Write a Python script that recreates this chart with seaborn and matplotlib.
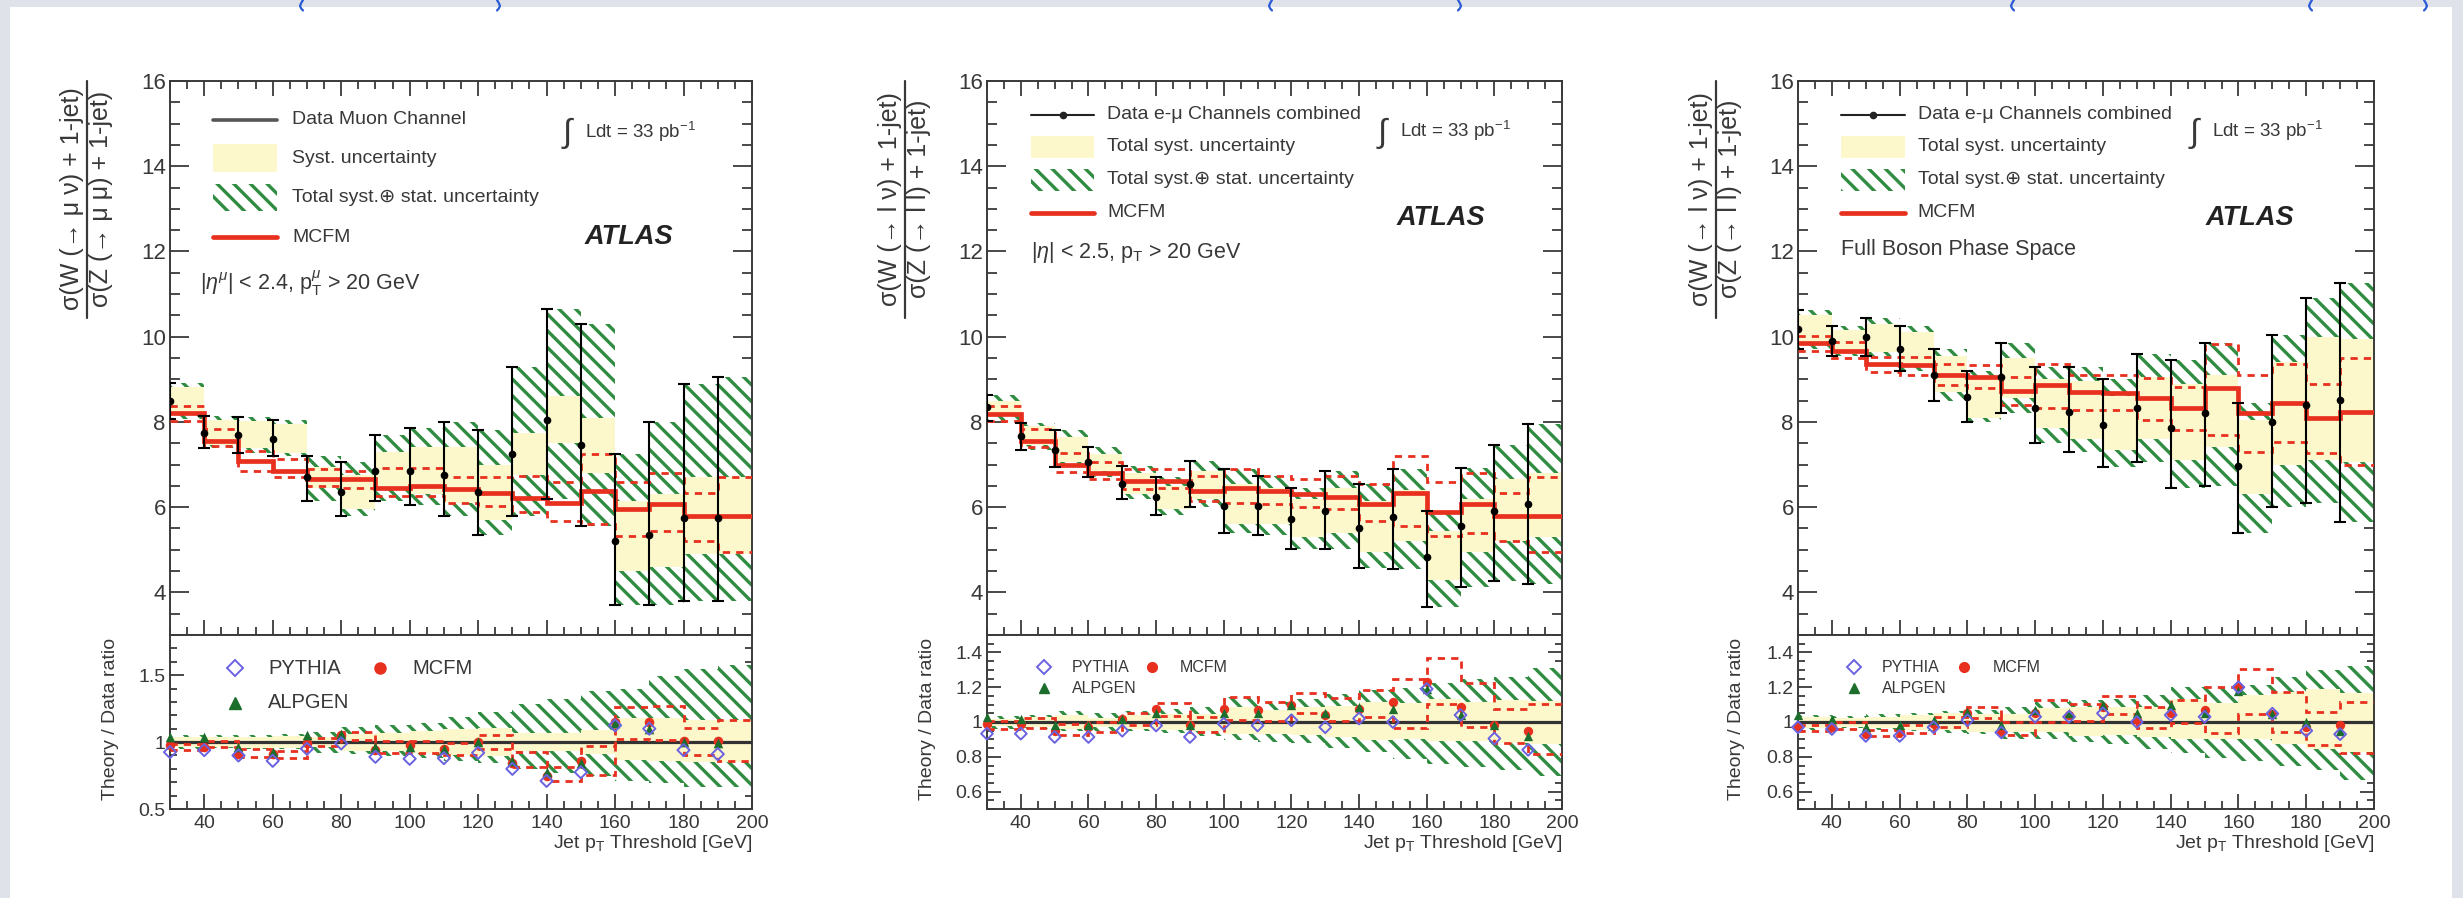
import numpy as np
import pandas as pd
import matplotlib
matplotlib.use("Agg")
import matplotlib.pyplot as plt
import seaborn as sns
from matplotlib.patches import Rectangle
from matplotlib.lines import Line2D
from matplotlib.ticker import MultipleLocator, FixedLocator, FuncFormatter

# ---------------- data ----------------
thresholds = [30, 40, 50, 60, 70, 80, 90, 100, 110, 120, 130, 140, 150, 160, 170, 180, 190]
bin_width = 10

# Panel 1 : muon channel
data_mu = [8.50, 7.75, 7.70, 7.60, 6.70, 6.35, 6.85, 6.85, 6.75, 6.35, 7.25, 8.05, 7.45, 5.20, 5.35, 5.75, 5.75]
tot_hi_mu = [8.92, 8.15, 8.12, 8.05, 7.20, 7.05, 7.70, 7.85, 8.00, 7.80, 9.30, 10.65, 10.30, 7.25, 8.00, 8.90, 9.05]
tot_lo_mu = [8.08, 7.38, 7.28, 7.20, 6.15, 5.80, 6.15, 6.05, 5.80, 5.35, 5.80, 6.20, 5.55, 3.70, 3.70, 3.80, 3.80]
syst_hi_mu = [8.82, 8.05, 8.02, 7.95, 6.95, 6.75, 7.30, 7.40, 7.40, 7.00, 7.75, 8.60, 8.10, 6.15, 6.30, 6.70, 6.70]
syst_lo_mu = [8.20, 7.45, 7.38, 7.28, 6.45, 5.95, 6.40, 6.30, 6.10, 5.70, 6.75, 7.50, 6.80, 4.50, 4.60, 4.90, 4.90]
mcfm_mu = [8.22, 7.55, 7.08, 6.85, 6.66, 6.66, 6.46, 6.50, 6.42, 6.34, 6.22, 6.10, 6.38, 5.95, 6.07, 5.80, 5.80]
mcfm_hi_mu = [8.38, 7.83, 7.32, 7.12, 6.89, 6.85, 6.93, 6.93, 6.70, 6.70, 6.73, 6.58, 7.24, 6.58, 6.80, 6.34, 6.70]
mcfm_lo_mu = [8.02, 7.44, 6.85, 6.70, 6.50, 6.46, 6.27, 6.27, 6.10, 6.03, 5.88, 5.68, 5.60, 5.33, 5.45, 5.21, 4.94]
pythia_mu = [0.925, 0.94, 0.90, 0.86, 0.95, 0.99, 0.89, 0.875, 0.88, 0.92, 0.80, 0.71, 0.775, 1.125, 1.10, 0.94, 0.91]
alpgen_mu = [1.04, 1.04, 0.96, 0.925, 1.05, 1.06, 0.96, 0.96, 0.95, 1.00, 0.86, 0.775, 0.84, 1.14, 1.10, 1.00, 0.99]
mcfm_ratio_mu = [0.975, 0.96, 0.91, 0.91, 0.99, 1.05, 0.94, 0.975, 0.95, 1.00, 0.84, 0.75, 0.86, 1.15, 1.15, 1.01, 1.01]

# Panel 2 : e-mu combined, fiducial
data_comb = [8.34, 7.67, 7.35, 7.07, 6.55, 6.23, 6.54, 6.03, 6.03, 5.72, 5.91, 5.52, 5.76, 4.82, 5.56, 5.91, 6.07]
tot_hi_comb = [8.63, 7.98, 7.80, 7.42, 6.97, 6.70, 7.09, 6.90, 6.73, 6.46, 6.85, 6.54, 6.90, 5.90, 6.93, 7.45, 7.95]
tot_lo_comb = [8.02, 7.35, 6.95, 6.70, 6.20, 5.82, 6.00, 5.40, 5.35, 5.02, 5.02, 4.57, 4.55, 3.65, 4.12, 4.27, 4.20]
syst_hi_comb = [8.50, 7.90, 7.65, 7.25, 6.80, 6.50, 6.85, 6.55, 6.45, 6.20, 6.45, 6.15, 6.40, 5.45, 6.20, 6.65, 6.80]
syst_lo_comb = [8.15, 7.45, 7.05, 6.85, 6.30, 5.95, 6.20, 5.60, 5.60, 5.30, 5.40, 4.95, 5.20, 4.30, 4.95, 5.20, 5.30]
mcfm_comb = [8.18, 7.55, 7.00, 6.81, 6.62, 6.62, 6.38, 6.46, 6.38, 6.30, 6.23, 6.07, 6.34, 5.88, 6.07, 5.80, 5.80]
mcfm_hi_comb = [8.38, 7.83, 7.28, 7.05, 6.90, 6.90, 6.73, 6.90, 6.73, 6.66, 6.73, 6.54, 7.20, 6.58, 6.80, 6.34, 6.70]
mcfm_lo_comb = [8.02, 7.40, 6.82, 6.66, 6.42, 6.46, 6.15, 6.10, 6.07, 6.00, 5.95, 5.68, 5.56, 5.33, 5.40, 5.21, 4.94]
pythia_comb = [0.933, 0.933, 0.914, 0.914, 0.95, 0.98, 0.914, 0.99, 0.98, 1.01, 0.97, 1.02, 1.00, 1.19, 1.04, 0.905, 0.84]
alpgen_comb = [1.03, 1.02, 0.98, 0.98, 1.02, 1.05, 0.98, 1.05, 1.05, 1.095, 1.05, 1.086, 1.076, 1.19, 1.04, 0.985, 0.92]
mcfm_ratio_comb = [0.99, 0.99, 0.95, 0.97, 1.02, 1.076, 0.98, 1.076, 1.067, 1.095, 1.04, 1.076, 1.114, 1.23, 1.086, 0.985, 0.95]

# Panel 3 : e-mu combined, full boson phase space
data_full = [10.19, 9.90, 9.99, 9.72, 9.10, 8.59, 9.06, 8.32, 8.24, 7.93, 8.32, 7.85, 8.20, 6.96, 8.00, 8.40, 8.51]
tot_hi_full = [10.62, 10.25, 10.45, 10.25, 9.70, 9.20, 9.85, 9.28, 9.30, 9.00, 9.60, 9.45, 9.85, 8.45, 10.05, 10.90, 11.25]
tot_lo_full = [9.70, 9.55, 9.55, 9.20, 8.50, 8.00, 8.20, 7.50, 7.30, 6.95, 7.05, 6.45, 6.50, 5.40, 6.00, 6.10, 5.65]
syst_hi_full = [10.50, 10.15, 10.30, 10.10, 9.55, 9.00, 9.50, 9.00, 8.95, 8.60, 9.05, 8.90, 9.10, 8.05, 9.40, 10.00, 9.95]
syst_lo_full = [9.85, 9.60, 9.65, 9.30, 8.70, 8.10, 8.55, 7.85, 7.60, 7.35, 7.60, 7.10, 7.40, 6.30, 7.00, 7.10, 7.05]
mcfm_full = [9.86, 9.67, 9.37, 9.33, 9.10, 9.06, 8.72, 8.86, 8.71, 8.67, 8.55, 8.32, 8.79, 8.20, 8.44, 8.09, 8.24]
mcfm_hi_full = [10.02, 9.88, 9.53, 9.53, 9.37, 9.33, 9.06, 9.37, 9.10, 9.10, 9.02, 8.82, 9.84, 9.10, 9.37, 8.90, 9.49]
mcfm_lo_full = [9.67, 9.49, 9.18, 9.10, 8.86, 8.79, 8.40, 8.32, 8.28, 8.28, 8.05, 7.81, 7.70, 7.30, 7.54, 7.27, 7.00]
pythia_full = [0.97, 0.96, 0.92, 0.92, 0.97, 1.01, 0.94, 1.03, 1.03, 1.05, 1.00, 1.04, 1.03, 1.20, 1.048, 0.95, 0.93]
alpgen_full = [1.04, 1.02, 0.97, 0.98, 1.01, 1.057, 0.98, 1.067, 1.05, 1.095, 1.05, 1.095, 1.05, 1.18, 1.048, 1.00, 0.95]
mcfm_ratio_full = [0.97, 0.97, 0.93, 0.94, 0.99, 1.05, 0.95, 1.05, 1.04, 1.086, 1.01, 1.05, 1.067, 1.20, 1.048, 0.97, 0.98]

legend_mu = ["Data Muon Channel", "Syst. uncertainty", "Total syst.\u2295 stat. uncertainty", "MCFM"]
legend_emu = ["Data e-\u03bc Channels combined", "Total syst. uncertainty", "Total syst.\u2295 stat. uncertainty", "MCFM"]
ratio_labels = ["PYTHIA", "MCFM", "ALPGEN"]

# ---------------- style ----------------
sns.set_theme(style="ticks")
plt.rcParams["font.family"] = ["Liberation Sans", "DejaVu Sans"]
plt.rcParams["mathtext.fontset"] = "custom"
plt.rcParams["mathtext.rm"] = "Liberation Sans"
plt.rcParams["mathtext.it"] = "Liberation Sans:italic"
plt.rcParams["mathtext.bf"] = "Liberation Sans:bold"
plt.rcParams["mathtext.sf"] = "Liberation Sans"
plt.rcParams["hatch.linewidth"] = 2.4

GREEN = "#2f8c40"
plt.rcParams["hatch.color"] = GREEN
YELLOW = "#fcf8cb"
RED = "#e8301f"
BLUE = "#6a62e0"
GREEN_PT = "#1b6e2c"
AXC = "#3a3a3a"
TXT = "#383838"

W, H = 2463, 898
fig = plt.figure(figsize=(W / 100, H / 100), dpi=100)
fig.patch.set_facecolor("white")

# page background strips
BG = "#dfe3e9"
fig.add_artist(Rectangle((0, 1 - 7 / H), 1, 7 / H, transform=fig.transFigure, facecolor=BG, lw=0, zorder=-5))
fig.add_artist(Rectangle((0, 0), 10 / W, 1, transform=fig.transFigure, facecolor=BG, lw=0, zorder=-5))
fig.add_artist(Rectangle((2452 / W, 0), 11 / W, 1, transform=fig.transFigure, facecolor=BG, lw=0, zorder=-5))
# bottoms of cut-off link glyphs at the very top of the page
for xp, side in [(300, -1), (500, 1), (1269, -1), (1461, 1), (2011, -1), (2309, -1), (2427, 1)]:
    px = np.array([3.0, 1.2, 0.0, 1.2, 3.0]) * side * -1 + xp
    py = H - np.array([0.0, 3.0, 6.0, 8.5, 10.5])
    fig.add_artist(Line2D(px / W, py / H, transform=fig.transFigure, color="#2a5ad6", lw=1.6))

panels_px = [(170, 752), (987, 1562), (1798, 2374)]
top_px, mid_px, bot_px = 81, 635, 809

fmt = FuncFormatter(lambda v, p: f"{v:g}")


def style_common(ax):
    ax.set_xlim(30, 200)
    ax.xaxis.set_major_locator(MultipleLocator(20))
    ax.xaxis.set_minor_locator(MultipleLocator(5))
    for s in ax.spines.values():
        s.set_color(AXC)
        s.set_linewidth(1.4)
        s.set_visible(True)
    ax.set_facecolor("white")


def draw_panel(i, data, tot_hi, tot_lo, syst_hi, syst_lo, mcfm, mcfm_hi, mcfm_lo,
               pythia, alpgen, mcfm_ratio, legend_labels, cfg):
    l, r = panels_px[i]
    ax = fig.add_axes([l / W, (H - mid_px) / H, (r - l) / W, (mid_px - top_px) / H])
    axr = fig.add_axes([l / W, (H - bot_px) / H, (r - l) / W, (bot_px - mid_px) / H])
    x = np.array(thresholds, float)
    edges = np.append(x, x[-1] + bin_width)
    d = np.array(data)
    th, tl = np.array(tot_hi), np.array(tot_lo)
    sh, sl = np.array(syst_hi), np.array(syst_lo)
    m, mh, ml = np.array(mcfm), np.array(mcfm_hi), np.array(mcfm_lo)

    # ---------- upper panel ----------
    ax.bar(x, th - tl, bottom=tl, width=bin_width, align="edge", facecolor="white",
           edgecolor=GREEN, hatch="\\\\", linewidth=0, zorder=1)
    ax.bar(x, sh - sl, bottom=sl, width=bin_width, align="edge", color=YELLOW, linewidth=0, zorder=2)
    ax.stairs(mh, edges, baseline=None, color=RED, lw=2.0, ls=(0, (2.6, 2.2)), zorder=3)
    ax.stairs(ml, edges, baseline=None, color=RED, lw=2.0, ls=(0, (2.6, 2.2)), zorder=3)
    ax.stairs(m, edges, baseline=None, color=RED, lw=3.4, zorder=4)
    ax.errorbar(x, d, yerr=[d - tl, th - d], fmt="o", ms=4.5, color="black", ecolor="black",
                elinewidth=1.5, capsize=4, capthick=1.5, zorder=6)

    style_common(ax)
    ax.set_ylim(3, 16)
    ax.yaxis.set_major_locator(MultipleLocator(2))
    ax.yaxis.set_minor_locator(MultipleLocator(0.5))
    ax.yaxis.set_major_formatter(fmt)
    ax.tick_params(which="both", direction="in", top=True, right=True, bottom=True, left=True,
                   labelbottom=False, color=AXC, width=1.3)
    ax.tick_params(axis="y", which="major", length=14, labelsize=16, labelcolor=TXT, pad=3)
    ax.tick_params(axis="y", which="minor", length=7)
    ax.tick_params(axis="x", which="major", length=11)
    ax.tick_params(axis="x", which="minor", length=6)
    ax.set_xlabel("")
    ax.set_ylabel("")

    # y-label as a fraction
    tr = ax.transAxes
    num, den = cfg["num"], cfg["den"]
    ax.text(-0.168, 0.787, num, transform=tr, rotation=90, ha="center", va="center",
            fontsize=cfg["yfs"], color=TXT)
    ax.text(-0.118, 0.787, den, transform=tr, rotation=90, ha="center", va="center",
            fontsize=cfg["yfs"], color=TXT)
    ax.add_line(Line2D([-0.143, -0.143], [0.572, 1.0], transform=tr, color=TXT, lw=1.6, clip_on=False))

    # legend
    rows = cfg["rows"]
    x0, x1, xt = cfg["hx0"], cfg["hx1"], cfg["tx"]
    bh = cfg["boxh"]
    if cfg["data_marker"]:
        ax.add_line(Line2D([x0, x1], [rows[0]] * 2, transform=tr, color="#222", lw=1.5))
        ax.add_line(Line2D([(x0 + x1) / 2], [rows[0]], transform=tr, color="#222", marker="o", ms=4.5))
    else:
        ax.add_line(Line2D([x0, x1], [rows[0]] * 2, transform=tr, color="#555", lw=2.6))
    ax.add_patch(Rectangle((x0, rows[1] - bh / 2), x1 - x0, bh, transform=tr, facecolor=YELLOW, lw=0))
    ax.add_patch(Rectangle((x0, rows[2] - bh / 2), x1 - x0, bh, transform=tr, facecolor="white",
                           edgecolor=GREEN, hatch="\\\\", lw=0))
    ax.add_line(Line2D([x0, x1], [rows[3]] * 2, transform=tr, color=RED, lw=3.4))
    for rr, lab in zip(rows, legend_labels):
        ax.text(xt, rr, lab, transform=tr, ha="left", va="center", fontsize=cfg["lfs"], color=TXT)
    ax.text(cfg["cutx"], cfg["cuty"], cfg["cut"], transform=tr, ha="left", va="center",
            fontsize=cfg["cfs"], color=TXT)
    ax.text(cfg["intx"], cfg["inty"], "\u222b", transform=tr, ha="left", va="center", fontsize=24, color=TXT)
    ax.text(cfg["intx"] + 0.038, cfg["inty"] + 0.003, r"Ldt = 33 pb$^{-1}$", transform=tr, ha="left",
            va="center", fontsize=13.5, color=TXT)
    ax.text(cfg["atx"], cfg["aty"], "ATLAS", transform=tr, ha="left", va="center", fontsize=19.5,
            fontweight="bold", fontstyle="italic", color="#222")

    # ---------- ratio panel ----------
    axr.bar(x, (th - tl) / d, bottom=tl / d, width=bin_width, align="edge", facecolor="white",
            edgecolor=GREEN, hatch="\\\\", linewidth=0, zorder=1)
    axr.bar(x, (sh - sl) / d, bottom=sl / d, width=bin_width, align="edge", color=YELLOW,
            linewidth=0, zorder=2)
    axr.axhline(1.0, color="#333", lw=2.3, zorder=3)
    axr.stairs(mh / d, edges, baseline=None, color=RED, lw=2.0, ls=(0, (2.6, 2.2)), zorder=4)
    axr.stairs(ml / d, edges, baseline=None, color=RED, lw=2.0, ls=(0, (2.6, 2.2)), zorder=4)

    ms = cfg["pts"]
    sns.scatterplot(x=x, y=mcfm_ratio, ax=axr, marker="o", color=RED, edgecolor=RED, s=ms,
                    linewidth=0, clip_on=False, zorder=6)
    sns.scatterplot(x=x, y=alpgen, ax=axr, marker="^", color=GREEN_PT, edgecolor=GREEN_PT, s=ms,
                    linewidth=0, clip_on=False, zorder=7)
    sns.scatterplot(x=x, y=pythia, ax=axr, marker="D", facecolors="none", edgecolor=BLUE, s=ms * 0.8,
                    linewidth=1.4, clip_on=False, zorder=8)

    style_common(axr)
    axr.set_ylim(*cfg["rylim"])
    axr.yaxis.set_major_locator(FixedLocator(cfg["rticks"]))
    axr.yaxis.set_minor_locator(MultipleLocator(cfg["rminor"]))
    axr.yaxis.set_major_formatter(fmt)
    axr.xaxis.set_major_formatter(fmt)
    axr.tick_params(which="both", direction="in", top=False, right=True, bottom=True, left=True,
                    color=AXC, width=1.3)
    axr.tick_params(axis="y", which="major", length=10, labelsize=14, labelcolor=TXT, pad=3)
    axr.tick_params(axis="y", which="minor", length=5)
    axr.tick_params(axis="x", which="major", length=11, labelsize=14, labelcolor=TXT, pad=4)
    axr.tick_params(axis="x", which="minor", length=6)
    axr.set_xlabel(r"Jet p$_{\mathrm{T}}$ Threshold [GeV]", loc="right", fontsize=14, color=TXT, labelpad=1)
    axr.set_ylabel("")
    axr.text(cfg["rylx"], 0.52, "Theory / Data ratio", transform=axr.transAxes, rotation=90,
             ha="center", va="center", fontsize=14, color=TXT)

    # ratio legend
    rt = axr.transAxes
    rfs = cfg["rlfs"]
    (px, pyy), (mx, my), (ax_, ay) = cfg["rleg"]
    axr.add_line(Line2D([px], [pyy], transform=rt, marker="D", mfc="none", mec=BLUE, mew=1.4, ms=cfg["rms"]))
    axr.add_line(Line2D([mx], [my], transform=rt, marker="o", color=RED, ms=cfg["rms"]))
    axr.add_line(Line2D([ax_], [ay], transform=rt, marker="^", color=GREEN_PT, ms=cfg["rms"]))
    dx = cfg["rdx"]
    axr.text(px + dx, pyy, ratio_labels[0], transform=rt, ha="left", va="center", fontsize=rfs, color=TXT)
    axr.text(mx + dx, my, ratio_labels[1], transform=rt, ha="left", va="center", fontsize=rfs, color=TXT)
    axr.text(ax_ + dx, ay, ratio_labels[2], transform=rt, ha="left", va="center", fontsize=rfs, color=TXT)


cfg_mu = dict(
    num="\u03c3(W (\u2192 \u03bc \u03bd) + 1-jet)", den="\u03c3(Z (\u2192 \u03bc \u03bc) + 1-jet)", yfs=18,
    rows=[0.930, 0.861, 0.789, 0.718], hx0=0.074, hx1=0.184, tx=0.21, boxh=0.049, lfs=14,
    data_marker=False,
    cut=r"|$\eta^{\mu}$| < 2.4, p$_{\mathrm{T}}^{\mu}$ > 20 GeV", cutx=0.052, cuty=0.635, cfs=15.5,
    intx=0.675, inty=0.905, atx=0.713, aty=0.718,
    rylim=(0.5, 1.8), rticks=[0.5, 1.0, 1.5], rminor=0.1, rylx=-0.103,
    pts=48, rms=8, rlfs=14.5, rdx=0.057,
    rleg=[(0.112, 0.81), (0.36, 0.81), (0.112, 0.61)],
)
cfg_comb = dict(
    num="\u03c3(W (\u2192 l \u03bd) + 1-jet)", den="\u03c3(Z (\u2192 l l) + 1-jet)", yfs=18,
    rows=[0.939, 0.881, 0.822, 0.762], hx0=0.077, hx1=0.186, tx=0.209, boxh=0.040, lfs=14,
    data_marker=True,
    cut=r"|$\eta$| < 2.5, p$_{\mathrm{T}}$ > 20 GeV", cutx=0.077, cuty=0.69, cfs=15.5,
    intx=0.68, inty=0.906, atx=0.713, aty=0.753,
    rylim=(0.5, 1.5), rticks=[0.6, 0.8, 1.0, 1.2, 1.4], rminor=0.05, rylx=-0.103,
    pts=45, rms=7, rlfs=11.5, rdx=0.049,
    rleg=[(0.099, 0.816), (0.287, 0.816), (0.099, 0.695)],
)
cfg_full = dict(cfg_comb)
cfg_full.update(cut="Full Boson Phase Space", cutx=0.075, cuty=0.695, cfs=15.5,
                hx0=0.075, hx1=0.186, tx=0.208, atx=0.708, rylx=-0.106,
                rleg=[(0.097, 0.816), (0.289, 0.816), (0.097, 0.695)])

draw_panel(0, data_mu, tot_hi_mu, tot_lo_mu, syst_hi_mu, syst_lo_mu, mcfm_mu, mcfm_hi_mu, mcfm_lo_mu,
           pythia_mu, alpgen_mu, mcfm_ratio_mu, legend_mu, cfg_mu)
draw_panel(1, data_comb, tot_hi_comb, tot_lo_comb, syst_hi_comb, syst_lo_comb, mcfm_comb, mcfm_hi_comb,
           mcfm_lo_comb, pythia_comb, alpgen_comb, mcfm_ratio_comb, legend_emu, cfg_comb)
draw_panel(2, data_full, tot_hi_full, tot_lo_full, syst_hi_full, syst_lo_full, mcfm_full, mcfm_hi_full,
           mcfm_lo_full, pythia_full, alpgen_full, mcfm_ratio_full, legend_emu, cfg_full)

fig.savefig("out.png", dpi=100, facecolor="white")
